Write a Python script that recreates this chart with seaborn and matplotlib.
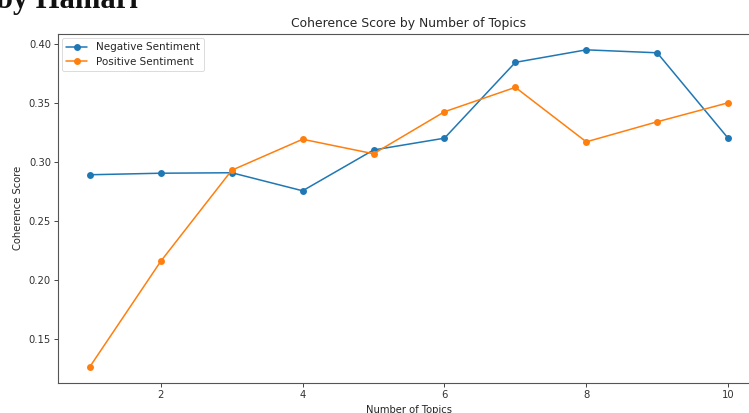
import matplotlib
matplotlib.use("Agg")
import matplotlib.pyplot as plt
import seaborn as sns
import pandas as pd

num_topics = [1, 2, 3, 4, 5, 6, 7, 8, 9, 10]
negative_scores = [0.289, 0.2903, 0.2907, 0.2754, 0.310, 0.320, 0.3843, 0.3949, 0.3924, 0.320]
positive_scores = [0.1263, 0.2157, 0.2928, 0.3191, 0.3068, 0.3424, 0.3631, 0.3169, 0.3339, 0.350]
series_labels = ["Negative Sentiment", "Positive Sentiment"]

sns.set_style("ticks")
plt.rcParams["font.family"] = ["DejaVu Sans"]

W, H = 749, 413
fig = plt.figure(figsize=(W / 100, H / 100), dpi=100)
ax = fig.add_axes([58 / W, 1 - 382.5 / H, (760 - 58) / W, (382.5 - 34) / H])

df = pd.DataFrame({
    "topics": num_topics * 2,
    "score": negative_scores + positive_scores,
    "series": [series_labels[0]] * len(num_topics) + [series_labels[1]] * len(num_topics),
})

palette = ["#1f77b4", "#ff7f0e"]
for name, color in zip(series_labels, palette):
    sub = df[df["series"] == name]
    sns.lineplot(data=sub, x="topics", y="score", ax=ax, color=color, label=name,
                 marker="o", markersize=5, markeredgewidth=0, linewidth=1.1)

ax.set_title("Coherence Score by Number of Topics", fontsize=8.9, pad=5)
ax.set_xlabel("Number of Topics", fontsize=7.2, labelpad=4)
ax.set_ylabel("Coherence Score", fontsize=7.2, labelpad=4)
ax.tick_params(labelsize=7.2, length=2.6, width=0.6, pad=2.5, labelcolor="#333333")
for s in ax.spines.values():
    s.set_linewidth(0.8)
    s.set_color("#555555")
ax.margins(x=0.05, y=0.05)
leg = ax.legend(loc="upper left", fontsize=7.5, frameon=True, borderpad=0.4,
                handlelength=2.0, labelspacing=0.4, borderaxespad=0.4)
leg.get_frame().set_linewidth(0.6)

fig.text(-4 / W, 1 - 8 / H, "by Hamari", fontsize=22, family="Liberation Serif",
         fontweight="bold", ha="left", va="baseline", color="#111111")

fig.savefig("out.png", dpi=100)
